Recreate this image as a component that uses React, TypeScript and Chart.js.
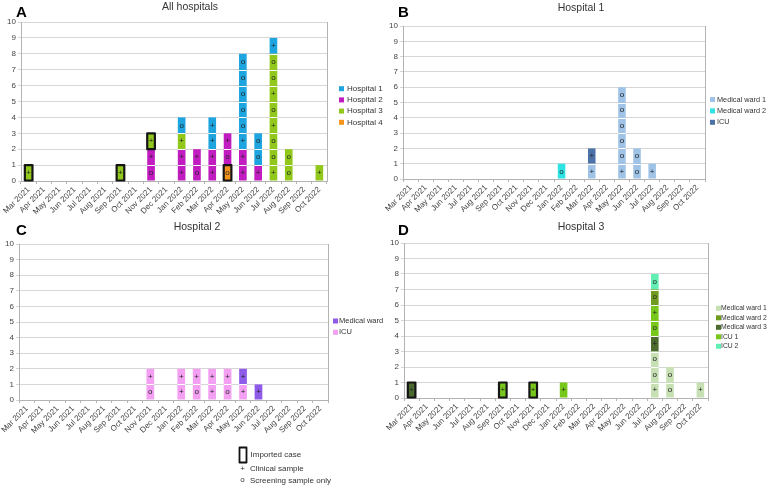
import React, { useEffect, useRef } from "react";
import { Chart, registerables } from "chart.js";

Chart.register(...registerables);

// ---------- DATA ----------
const months = [
  "Mar 2021", "Apr 2021", "May 2021", "Jun 2021", "Jul 2021", "Aug 2021", "Sep 2021", "Oct 2021",
  "Nov 2021", "Dec 2021", "Jan 2022", "Feb 2022", "Mar 2022", "Apr 2022", "May 2022", "Jun 2022",
  "Jul 2022", "Aug 2022", "Sep 2022", "Oct 2022",
];
const yTickValues = [0, 1, 2, 3, 4, 5, 6, 7, 8, 9, 10];

// Cells per month, from the bottom of the stack up: "+" clinical sample, "o" screening sample only
type MonthCells = [string, string][];

// A: All hospitals
const hospital1Cells: MonthCells = [["Jan 2022", "o"], ["Mar 2022", "++"], ["May 2022", "+ooooo"], ["Jun 2022", "oo"], ["Jul 2022", "+"]];
const hospital2Cells: MonthCells = [["Nov 2021", "o+"], ["Jan 2022", "++"], ["Feb 2022", "o+"], ["Mar 2022", "++"], ["Apr 2022", "o+"], ["May 2022", "++"], ["Jun 2022", "+"]];
const hospital3Cells: MonthCells = [["Mar 2021", "+"], ["Sep 2021", "+"], ["Nov 2021", "+"], ["Jan 2022", "+"], ["Jul 2022", "+oo+o+oo"], ["Aug 2022", "oo"], ["Oct 2022", "+"]];
const hospital4Cells: MonthCells = [["Apr 2022", "o"]];
const importedA: [string, string][] = [["Mar 2021", "Hospital 3"], ["Sep 2021", "Hospital 3"], ["Nov 2021", "Hospital 3"], ["Apr 2022", "Hospital 4"]];

// B: Hospital 1
const h1Ward1Cells: MonthCells = [["Mar 2022", "+"], ["May 2022", "+ooooo"], ["Jun 2022", "oo"], ["Jul 2022", "+"]];
const h1Ward2Cells: MonthCells = [["Jan 2022", "o"]];
const h1IcuCells: MonthCells = [["Mar 2022", "+"]];

// C: Hospital 2
const h2WardCells: MonthCells = [["May 2022", "+"], ["Jun 2022", "+"]];
const h2IcuCells: MonthCells = [["Nov 2021", "o+"], ["Jan 2022", "++"], ["Feb 2022", "o+"], ["Mar 2022", "++"], ["Apr 2022", "o+"], ["May 2022", "+"]];

// D: Hospital 3
const h3Ward1Cells: MonthCells = [["Jul 2022", "+oo"], ["Aug 2022", "oo"], ["Oct 2022", "+"]];
const h3Ward2Cells: MonthCells = [["Jul 2022", "o"]];
const h3Ward3Cells: MonthCells = [["Mar 2021", "+"], ["Jul 2022", "+"]];
const h3Icu1Cells: MonthCells = [["Sep 2021", "+"], ["Nov 2021", "+"], ["Jan 2022", "+"], ["Jul 2022", "o+"]];
const h3Icu2Cells: MonthCells = [["Jul 2022", "o"]];
const importedD: [string, string][] = [["Mar 2021", "Medical ward 3"], ["Sep 2021", "ICU 1"], ["Nov 2021", "ICU 1"]];

// ---------- STYLE ----------
const colors: Record<string, string> = {
  hospital1: "#1ea5e0",
  hospital2: "#c01cc0",
  hospital3: "#92c81c",
  hospital4: "#f7941d",
  h1Ward1: "#9fc3e7",
  h1Ward2: "#2ee3e3",
  h1Icu: "#4c72a8",
  h2Ward: "#8e5ce8",
  h2Icu: "#f3a0f3",
  h3Ward1: "#c6e0b4",
  h3Ward2: "#6f9b1f",
  h3Ward3: "#4b6a2d",
  h3Icu1: "#78c81c",
  h3Icu2: "#62efb4",
};
const FONT = '"Liberation Sans", Arial, sans-serif';

type SeriesDef = { label: string; cells: MonthCells; color: string };
type PanelDef = {
  key: string;
  letter: string;
  title: string;
  series: SeriesDef[]; // stacking order, bottom first
  legendOrder: string[];
  imported: [string, string][];
  canvas: { left: number; top: number; width: number; height: number };
  area: { left: number; right: number; top: number; bottom: number };
  titleAt: [number, number];
  letterAt: [number, number];
  legend: { boxX: number; textX: number; y0: number; dy: number; font: number };
  footer?: boolean;
};

const panels: PanelDef[] = [
  {
    key: "A", letter: "A", title: "All hospitals",
    series: [
      { label: "Hospital 4", cells: hospital4Cells, color: colors.hospital4 },
      { label: "Hospital 2", cells: hospital2Cells, color: colors.hospital2 },
      { label: "Hospital 3", cells: hospital3Cells, color: colors.hospital3 },
      { label: "Hospital 1", cells: hospital1Cells, color: colors.hospital1 },
    ],
    legendOrder: ["Hospital 1", "Hospital 2", "Hospital 3", "Hospital 4"],
    imported: importedA,
    canvas: { left: 0, top: 0, width: 390, height: 222 },
    area: { left: 21, right: 327, top: 22, bottom: 181 },
    titleAt: [190, 7], letterAt: [16, 17],
    legend: { boxX: 339, textX: 347, y0: 88.7, dy: 11.2, font: 8 },
  },
  {
    key: "B", letter: "B", title: "Hospital 1",
    series: [
      { label: "Medical ward 1", cells: h1Ward1Cells, color: colors.h1Ward1 },
      { label: "Medical ward 2", cells: h1Ward2Cells, color: colors.h1Ward2 },
      { label: "ICU", cells: h1IcuCells, color: colors.h1Icu },
    ],
    legendOrder: ["Medical ward 1", "Medical ward 2", "ICU"],
    imported: [],
    canvas: { left: 380, top: 0, width: 394, height: 222 },
    area: { left: 23, right: 325, top: 26, bottom: 179 },
    titleAt: [201, 8], letterAt: [18, 17],
    legend: { boxX: 330, textX: 337, y0: 99.5, dy: 11.4, font: 7.3 },
  },
  {
    key: "C", letter: "C", title: "Hospital 2",
    series: [
      { label: "ICU", cells: h2IcuCells, color: colors.h2Icu },
      { label: "Medical ward", cells: h2WardCells, color: colors.h2Ward },
    ],
    legendOrder: ["Medical ward", "ICU"],
    imported: [],
    canvas: { left: 0, top: 215, width: 390, height: 274 },
    area: { left: 19, right: 328, top: 29, bottom: 185 },
    titleAt: [197, 12], letterAt: [16, 20],
    legend: { boxX: 333, textX: 339, y0: 106, dy: 11.3, font: 7.5 },
    footer: true,
  },
  {
    key: "D", letter: "D", title: "Hospital 3",
    series: [
      { label: "Medical ward 1", cells: h3Ward1Cells, color: colors.h3Ward1 },
      { label: "Medical ward 3", cells: h3Ward3Cells, color: colors.h3Ward3 },
      { label: "ICU 1", cells: h3Icu1Cells, color: colors.h3Icu1 },
      { label: "Medical ward 2", cells: h3Ward2Cells, color: colors.h3Ward2 },
      { label: "ICU 2", cells: h3Icu2Cells, color: colors.h3Icu2 },
    ],
    legendOrder: ["Medical ward 1", "Medical ward 2", "Medical ward 3", "ICU 1", "ICU 2"],
    imported: importedD,
    canvas: { left: 380, top: 215, width: 394, height: 274 },
    area: { left: 24, right: 328, top: 28, bottom: 183 },
    titleAt: [201, 12], letterAt: [18, 20],
    legend: { boxX: 336, textX: 341, y0: 93.3, dy: 9.5, font: 6.8 },
  },
];

function cellsAt(cells: MonthCells, month: string): string {
  const hit = cells.find((c) => c[0] === month);
  return hit ? hit[1] : "";
}

function makePlugin(p: PanelDef) {
  return {
    id: "cells" + p.key,
    beforeDatasetsDraw(chart: any) {
      const ctx = chart.ctx;
      const a = chart.chartArea;
      ctx.save();
      ctx.strokeStyle = "#b3b3b3";
      ctx.lineWidth = 1;
      ctx.beginPath();
      ctx.moveTo(Math.round(a.right) + 0.5, a.top);
      ctx.lineTo(Math.round(a.right) + 0.5, a.bottom);
      ctx.stroke();
      ctx.restore();
    },
    afterDatasetsDraw(chart: any) {
      const ctx = chart.ctx;
      const ys = chart.scales.y;
      ctx.save();
      months.forEach((m, mi) => {
        let base = 0;
        let x = 0;
        let w = 0;
        const marks: [string, number, number][] = [];
        p.series.forEach((s, si) => {
          const str = cellsAt(s.cells, m);
          if (!str) return;
          const el = chart.getDatasetMeta(si).data[mi];
          x = el.x;
          w = el.width;
          for (let k = 0; k < str.length; k++) {
            marks.push([str[k], x, ys.getPixelForValue(base + k + 0.5)]);
          }
          base += str.length;
        });
        // white separators between unit cells
        ctx.strokeStyle = "#ffffff";
        ctx.lineWidth = 1;
        for (let k = 1; k < base; k++) {
          const yy = Math.round(ys.getPixelForValue(k)) + 0.5;
          ctx.beginPath();
          ctx.moveTo(x - w / 2, yy);
          ctx.lineTo(x + w / 2, yy);
          ctx.stroke();
        }
        ctx.fillStyle = "#222";
        ctx.font = "8px " + FONT;
        ctx.textAlign = "center";
        ctx.textBaseline = "middle";
        marks.forEach(([ch, mx, my]) => ctx.fillText(ch, mx, my));
      });
      // imported case boxes
      ctx.strokeStyle = "#151515";
      ctx.lineWidth = 2.2;
      ctx.lineJoin = "round";
      p.imported.forEach(([month, label]) => {
        const si = p.series.findIndex((s) => s.label === label);
        const mi = months.indexOf(month);
        const el = chart.getDatasetMeta(si).data[mi];
        const x0 = el.x - el.width / 2;
        ctx.strokeRect(x0, el.y, el.width, el.base - el.y);
      });
      ctx.restore();
    },
    afterDraw(chart: any) {
      const ctx = chart.ctx;
      ctx.save();
      // title
      ctx.fillStyle = "#333";
      ctx.font = "10.5px " + FONT;
      ctx.textAlign = "center";
      ctx.textBaseline = "middle";
      ctx.fillText(p.title, p.titleAt[0], p.titleAt[1]);
      // panel letter
      ctx.fillStyle = "#000";
      ctx.font = "900 15px " + FONT;
      ctx.textAlign = "left";
      ctx.textBaseline = "alphabetic";
      ctx.fillText(p.letter, p.letterAt[0], p.letterAt[1]);
      // legend
      ctx.font = p.legend.font + "px " + FONT;
      ctx.textBaseline = "middle";
      p.legendOrder.forEach((label, i) => {
        const s = p.series.find((q) => q.label === label)!;
        const yy = p.legend.y0 + i * p.legend.dy;
        ctx.fillStyle = s.color;
        ctx.fillRect(p.legend.boxX, yy - 2.5, 5, 5);
        ctx.fillStyle = "#333";
        ctx.fillText(label, p.legend.textX, yy);
      });
      if (p.footer) {
        const oy = -p.canvas.top;
        ctx.strokeStyle = "#111";
        ctx.lineWidth = 1.8;
        ctx.lineJoin = "round";
        ctx.strokeRect(239.5, 447.5 + oy, 7, 15);
        ctx.fillStyle = "#333";
        ctx.font = "8px " + FONT;
        ctx.textAlign = "left";
        ctx.fillText("Imported case", 250.5, 454.5 + oy);
        ctx.fillText("Clinical sample", 250, 469 + oy);
        ctx.fillText("Screening sample only", 250, 480.5 + oy);
        ctx.textAlign = "center";
        ctx.fillText("+", 242.5, 469 + oy);
        ctx.fillText("o", 242.5, 480 + oy);
      }
      ctx.restore();
    },
  };
}

function PanelChart({ p }: { p: PanelDef }) {
  const ref = useRef<HTMLCanvasElement | null>(null);
  useEffect(() => {
    if (!ref.current) return;
    const chart = new Chart(ref.current, {
      type: "bar",
      data: {
        labels: months,
        datasets: p.series.map((s) => ({
          label: s.label,
          data: months.map((m) => cellsAt(s.cells, m).length || null),
          backgroundColor: s.color,
          borderWidth: 0,
          barPercentage: 0.5,
          categoryPercentage: 1.0,
        })),
      },
      options: {
        animation: false,
        responsive: false,
        devicePixelRatio: 1,
        events: [],
        layout: {
          padding: { left: 0, top: p.area.top, right: p.canvas.width - p.area.right, bottom: 0 },
        },
        plugins: { legend: { display: false }, title: { display: false }, tooltip: { enabled: false } },
        scales: {
          x: {
            stacked: true,
            offset: true,
            afterFit: (s: any) => { s.height = p.canvas.height - p.area.bottom; },
            grid: { offset: true, drawOnChartArea: false, tickLength: 3, color: "#b3b3b3" },
            border: { color: "#b3b3b3" },
            ticks: {
              autoSkip: false, minRotation: 45, maxRotation: 45, padding: 1,
              color: "#444", font: { family: FONT, size: 8 },
            },
          },
          y: {
            stacked: true,
            min: 0,
            max: 10,
            afterFit: (s: any) => { s.width = p.area.left; },
            afterBuildTicks: (s: any) => { s.ticks = yTickValues.map((v) => ({ value: v })); },
            grid: { color: "#d6d6d6", tickLength: 3 },
            border: { color: "#b3b3b3" },
            ticks: { stepSize: 1, padding: 2, color: "#444", font: { family: FONT, size: 8 } },
          },
        },
      } as any,
      plugins: [makePlugin(p)],
    });
    return () => chart.destroy();
  }, [p]);
  return (
    <canvas
      ref={ref}
      width={p.canvas.width}
      height={p.canvas.height}
      style={{ position: "absolute", left: p.canvas.left, top: p.canvas.top, width: p.canvas.width, height: p.canvas.height }}
    />
  );
}

export default function App() {
  return (
    <div style={{ position: "absolute", left: 0, top: 0, width: 774, height: 489, background: "#fff", overflow: "hidden" }}>
      {panels.map((p) => (
        <PanelChart key={p.key} p={p} />
      ))}
    </div>
  );
}
